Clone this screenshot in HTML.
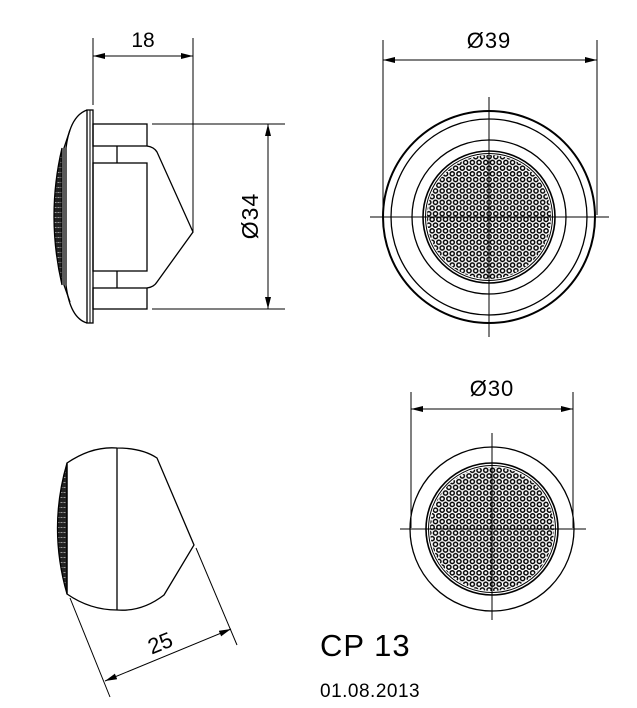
<!DOCTYPE html>
<html><head><meta charset="utf-8"><style>
html,body{margin:0;padding:0;background:#fff;}
svg{display:block;}
text{font-family:"Liberation Sans",sans-serif;fill:#000;}
</style></head><body>
<svg width="637" height="708" viewBox="0 0 637 708" xmlns="http://www.w3.org/2000/svg">
<defs>
<pattern id="holes" x="0" y="0" width="6.7" height="11.4" patternUnits="userSpaceOnUse">
<circle cx="3.35" cy="2.85" r="2.1" fill="none" stroke="#000" stroke-width="1.5"/>
<circle cx="0" cy="8.55" r="2.1" fill="none" stroke="#000" stroke-width="1.5"/>
<circle cx="6.7" cy="8.55" r="2.1" fill="none" stroke="#000" stroke-width="1.5"/>
</pattern>
<pattern id="mesh" x="0" y="0" width="3" height="5" patternUnits="userSpaceOnUse">
<rect width="3" height="5" fill="#222"/><rect x="0.5" y="2" width="2" height="1" fill="#999"/>
</pattern>
<marker id="ar" markerWidth="12" markerHeight="6" refX="12" refY="3" orient="auto" markerUnits="userSpaceOnUse">
<path d="M0,0 L12,3 L0,6 z" fill="#000"/></marker>
<marker id="al" markerWidth="12" markerHeight="6" refX="0" refY="3" orient="auto" markerUnits="userSpaceOnUse">
<path d="M12,0 L0,3 L12,6 z" fill="#000"/></marker>
</defs>
<g fill="none" stroke="#000" stroke-width="1.3">
<line x1="93" y1="38" x2="93" y2="105" stroke-width="1"/>
<line x1="193" y1="38" x2="193" y2="232" stroke-width="1"/>
<line x1="93" y1="56" x2="193" y2="56" stroke-width="1" marker-start="url(#al)" marker-end="url(#ar)"/>
<path d="M62,148 Q46,216 62,285 Z" fill="url(#mesh)" stroke="#000"/>
<path d="M87,110 Q70,116 66,148 L66,285 Q70,318 87,323"/>
<path d="M70,130 L64,148 L64,285 L70,302"/>
<rect x="87" y="110" width="6" height="213"/>
<line x1="90" y1="110" x2="90" y2="323" stroke-width="1"/>
<rect x="93" y="124" width="54" height="22"/>
<rect x="93" y="288" width="54" height="21"/>
<rect x="93" y="163" width="54" height="108"/>
<line x1="117" y1="146" x2="117" y2="163"/>
<line x1="117" y1="271" x2="117" y2="288"/>
<path d="M147,146 Q154,147 157,152 L193,232 L157,282 Q154,287 147,288"/>
<line x1="152" y1="124" x2="285" y2="124" stroke-width="1"/>
<line x1="152" y1="309" x2="285" y2="309" stroke-width="1"/>
<line x1="268" y1="124" x2="268" y2="309" stroke-width="1" marker-start="url(#al)" marker-end="url(#ar)"/>
<line x1="383" y1="40" x2="383" y2="215" stroke-width="1"/>
<line x1="597" y1="40" x2="597" y2="215" stroke-width="1"/>
<line x1="383" y1="60" x2="597" y2="60" stroke-width="1" marker-start="url(#al)" marker-end="url(#ar)"/>
<circle cx="489" cy="217" r="106" stroke-width="2"/>
<circle cx="489" cy="217" r="98"/>
<circle cx="489" cy="217" r="77"/>
<circle cx="489" cy="217" r="62" fill="url(#holes)" stroke="none"/>
<circle cx="489" cy="217" r="66" stroke-width="1.6"/>
<circle cx="489" cy="217" r="63.5" stroke-width="1"/>
<line x1="489" y1="97" x2="489" y2="337" stroke-width="1"/>
<line x1="370" y1="217" x2="609" y2="217" stroke-width="1"/>
<line x1="411" y1="392" x2="411" y2="528" stroke-width="1"/>
<line x1="573" y1="392" x2="573" y2="528" stroke-width="1"/>
<line x1="411" y1="409" x2="573" y2="409" stroke-width="1" marker-start="url(#al)" marker-end="url(#ar)"/>
<circle cx="492" cy="529" r="82"/>
<circle cx="492" cy="529" r="62" fill="url(#holes)" stroke="none"/>
<circle cx="492" cy="529" r="66" stroke-width="1.6"/>
<circle cx="492" cy="529" r="63.5" stroke-width="1"/>
<line x1="492" y1="433" x2="492" y2="620" stroke-width="1"/>
<line x1="400" y1="529" x2="586" y2="529" stroke-width="1"/>
<path d="M67,463 Q48,528 67,594 Z" fill="url(#mesh)"/>
<path d="M67,463 Q92,446 117,448 Q142,448 157,458 L194,545 L164,595 Q142,612 117,610 Q90,610 67,594 Z"/>
<line x1="117" y1="448" x2="117" y2="610"/>
<line x1="70" y1="598" x2="110" y2="697" stroke-width="1"/>
<line x1="196" y1="548" x2="237" y2="645" stroke-width="1"/>
<line x1="105" y1="681" x2="231" y2="629" stroke-width="1" marker-start="url(#al)" marker-end="url(#ar)"/>
</g>
<text x="143" y="47" font-size="21" text-anchor="middle">18</text>
<text x="489" y="48" font-size="22" letter-spacing="1" text-anchor="middle">Ø39</text>
<text x="492" y="396" font-size="22" letter-spacing="1" text-anchor="middle">Ø30</text>
<text transform="translate(258,216) rotate(-90)" font-size="23" letter-spacing="1" text-anchor="middle">Ø34</text>
<text transform="translate(163,650) rotate(-22)" font-size="22" text-anchor="middle">25</text>
<text x="320" y="656" font-size="31" letter-spacing="1">CP 13</text>
<text x="320" y="697" font-size="19" letter-spacing="0.5">01.08.2013</text>
</svg>
</body></html>
